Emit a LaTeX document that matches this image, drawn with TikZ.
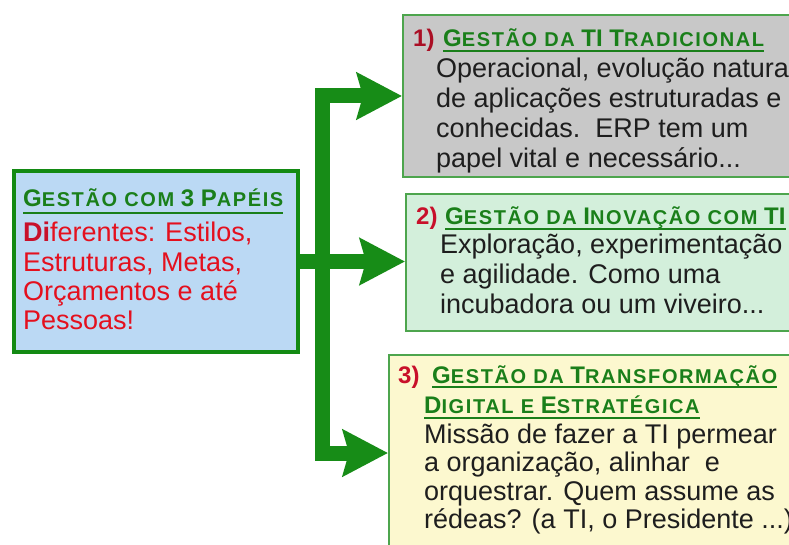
\documentclass[tikz,border=0pt]{standalone}
\usepackage{fontspec}
\setmainfont{Liberation Sans}
\usetikzlibrary{arrows.meta}
\definecolor{arrowgreen}{HTML}{178C17}
\definecolor{lbfill}{HTML}{BBD9F4}
\definecolor{lbline}{HTML}{138A13}
\definecolor{greyfill}{HTML}{C8C8C8}
\definecolor{mintfill}{HTML}{D3EFDB}
\definecolor{creamfill}{HTML}{FCF8CF}
\definecolor{boxline}{HTML}{4DA54D}
\definecolor{ttlgreen}{HTML}{1A7F1A}
\definecolor{numred}{HTML}{C8102A}
\definecolor{textred}{HTML}{E4101E}
\definecolor{bodygrey}{HTML}{1E1E1E}
% small capitals for the titles
\newcommand\sk[1]{{\fontsize{20}{20}\selectfont\addfontfeature{LetterSpace=8}#1}}
\newcommand\tridot{...}

\begin{document}
\begin{tikzpicture}[x=1pt, y=-1pt,
	box/.style={draw=boxline, line width=2pt, anchor=north west, inner sep=0pt},
	body/.style={font=\fontsize{27}{30}\selectfont, text=bodygrey, anchor=base west, inner sep=0pt},
	ttl/.style={font=\fontsize{24}{28}\selectfont\bfseries, text=ttlgreen, anchor=base west, inner sep=0pt},
	num/.style={font=\fontsize{24}{28}\selectfont\bfseries, text=numred, anchor=base west, inner sep=0pt},
	uline/.style={ttlgreen, line width=2.5pt},
	flow/.style={arrowgreen, line width=15pt, line join=miter, -{Stealth[length=45pt, width=46pt, inset=6pt]}}]
	\useasboundingbox (0,0) rectangle (789,545);
	\fill[white] (0,0) rectangle (789,545);
	\clip (0,0) rectangle (789,545);

	% boxes
	\node[box, draw=lbline, line width=4pt, fill=lbfill, minimum width=284pt, minimum height=181pt] (lb) at (12,169) {};
	\node[box, fill=greyfill, minimum width=400pt, minimum height=162pt] (b1) at (402,14) {};
	\node[box, fill=mintfill, minimum width=400pt, minimum height=137pt] (b2) at (405,193) {};
	\node[box, fill=creamfill, minimum width=420pt, minimum height=196pt] (b3) at (388,354) {};

	% arrows
	\coordinate (fork) at (322,260);
	\draw[flow] (lb.east) -- (lb.east -| b2.west);
	\draw[flow] (fork) |- (b1.west);
	\draw[flow] (fork) |- (b3.west);

	% left box
	\node[ttl] (lbt) at (23,207) {G\sk{ESTÃO COM} 3 P\sk{APÉIS}};
	\draw[uline] ([yshift=-6pt]lbt.base west) -- ([yshift=-6pt]lbt.base east);
	\foreach \t [count=\k] in {{\textbf{\color{numred}Di}ferentes: Estilos,}, {Estruturas, Metas,}, {Orçamentos e até}, {Pessoas!}}
		{\node[body, text=textred] (lb\k) at (23,{242+29.3*(\k-1)}) {\t};}

	% box 1
	\node[num, text=numred!85!black] (n1) at (413,47) {1)};
	\node[ttl] (t1) at (443,47) {G\sk{ESTÃO DA} TI T\sk{RADICIONAL}};
	\draw[uline] ([yshift=-4pt]t1.base west) -- ([yshift=-4pt]t1.base east);
	\foreach \t [count=\k] in {{Operacional, evolução natural}, {de aplicações estruturadas e}, {conhecidas.\ \ ERP tem um}, {papel vital e necessário\tridot}}
		{\node[body] (b1l\k) at (436,{78+29.7*(\k-1)}) {\t};}

	% box 2
	\node[num] (n2) at (416,225) {2)};
	\node[ttl] (t2) at (445,225) {G\sk{ESTÃO DA} I\sk{NOVAÇÃO COM} TI};
	\draw[uline] ([yshift=-4pt]t2.base west) -- ([yshift=-4pt]t2.base east);
	\foreach \t [count=\k] in {{Exploração, experimentação}, {e agilidade. Como uma}, {incubadora ou um viveiro\tridot}}
		{\node[body] (b2l\k) at (440,{254+29.5*(\k-1)}) {\t};}

	% box 3
	\node[num] (n3) at (398,383) {3)};
	\node[ttl] (t3a) at (432,383) {G\sk{ESTÃO DA} T\sk{RANSFORMAÇÃO}};
	\node[ttl] (t3b) at (424,413) {D\sk{IGITAL E} E\sk{STRATÉGICA}};
	\draw[uline] ([yshift=-4pt]t3a.base west) -- ([yshift=-4pt]t3a.base east);
	\draw[uline] ([yshift=-5pt]t3b.base west) -- ([yshift=-5pt]t3b.base east);
	\foreach \t [count=\k] in {{Missão de fazer a TI permear}, {a organização, alinhar\ \ e}, {orquestrar. Quem assume as}, {rédeas? (a TI, o Presidente \tridot)}}
		{\node[body] (b3l\k) at (424,{443+28.5*(\k-1)}) {\t};}
\end{tikzpicture}
\end{document}
